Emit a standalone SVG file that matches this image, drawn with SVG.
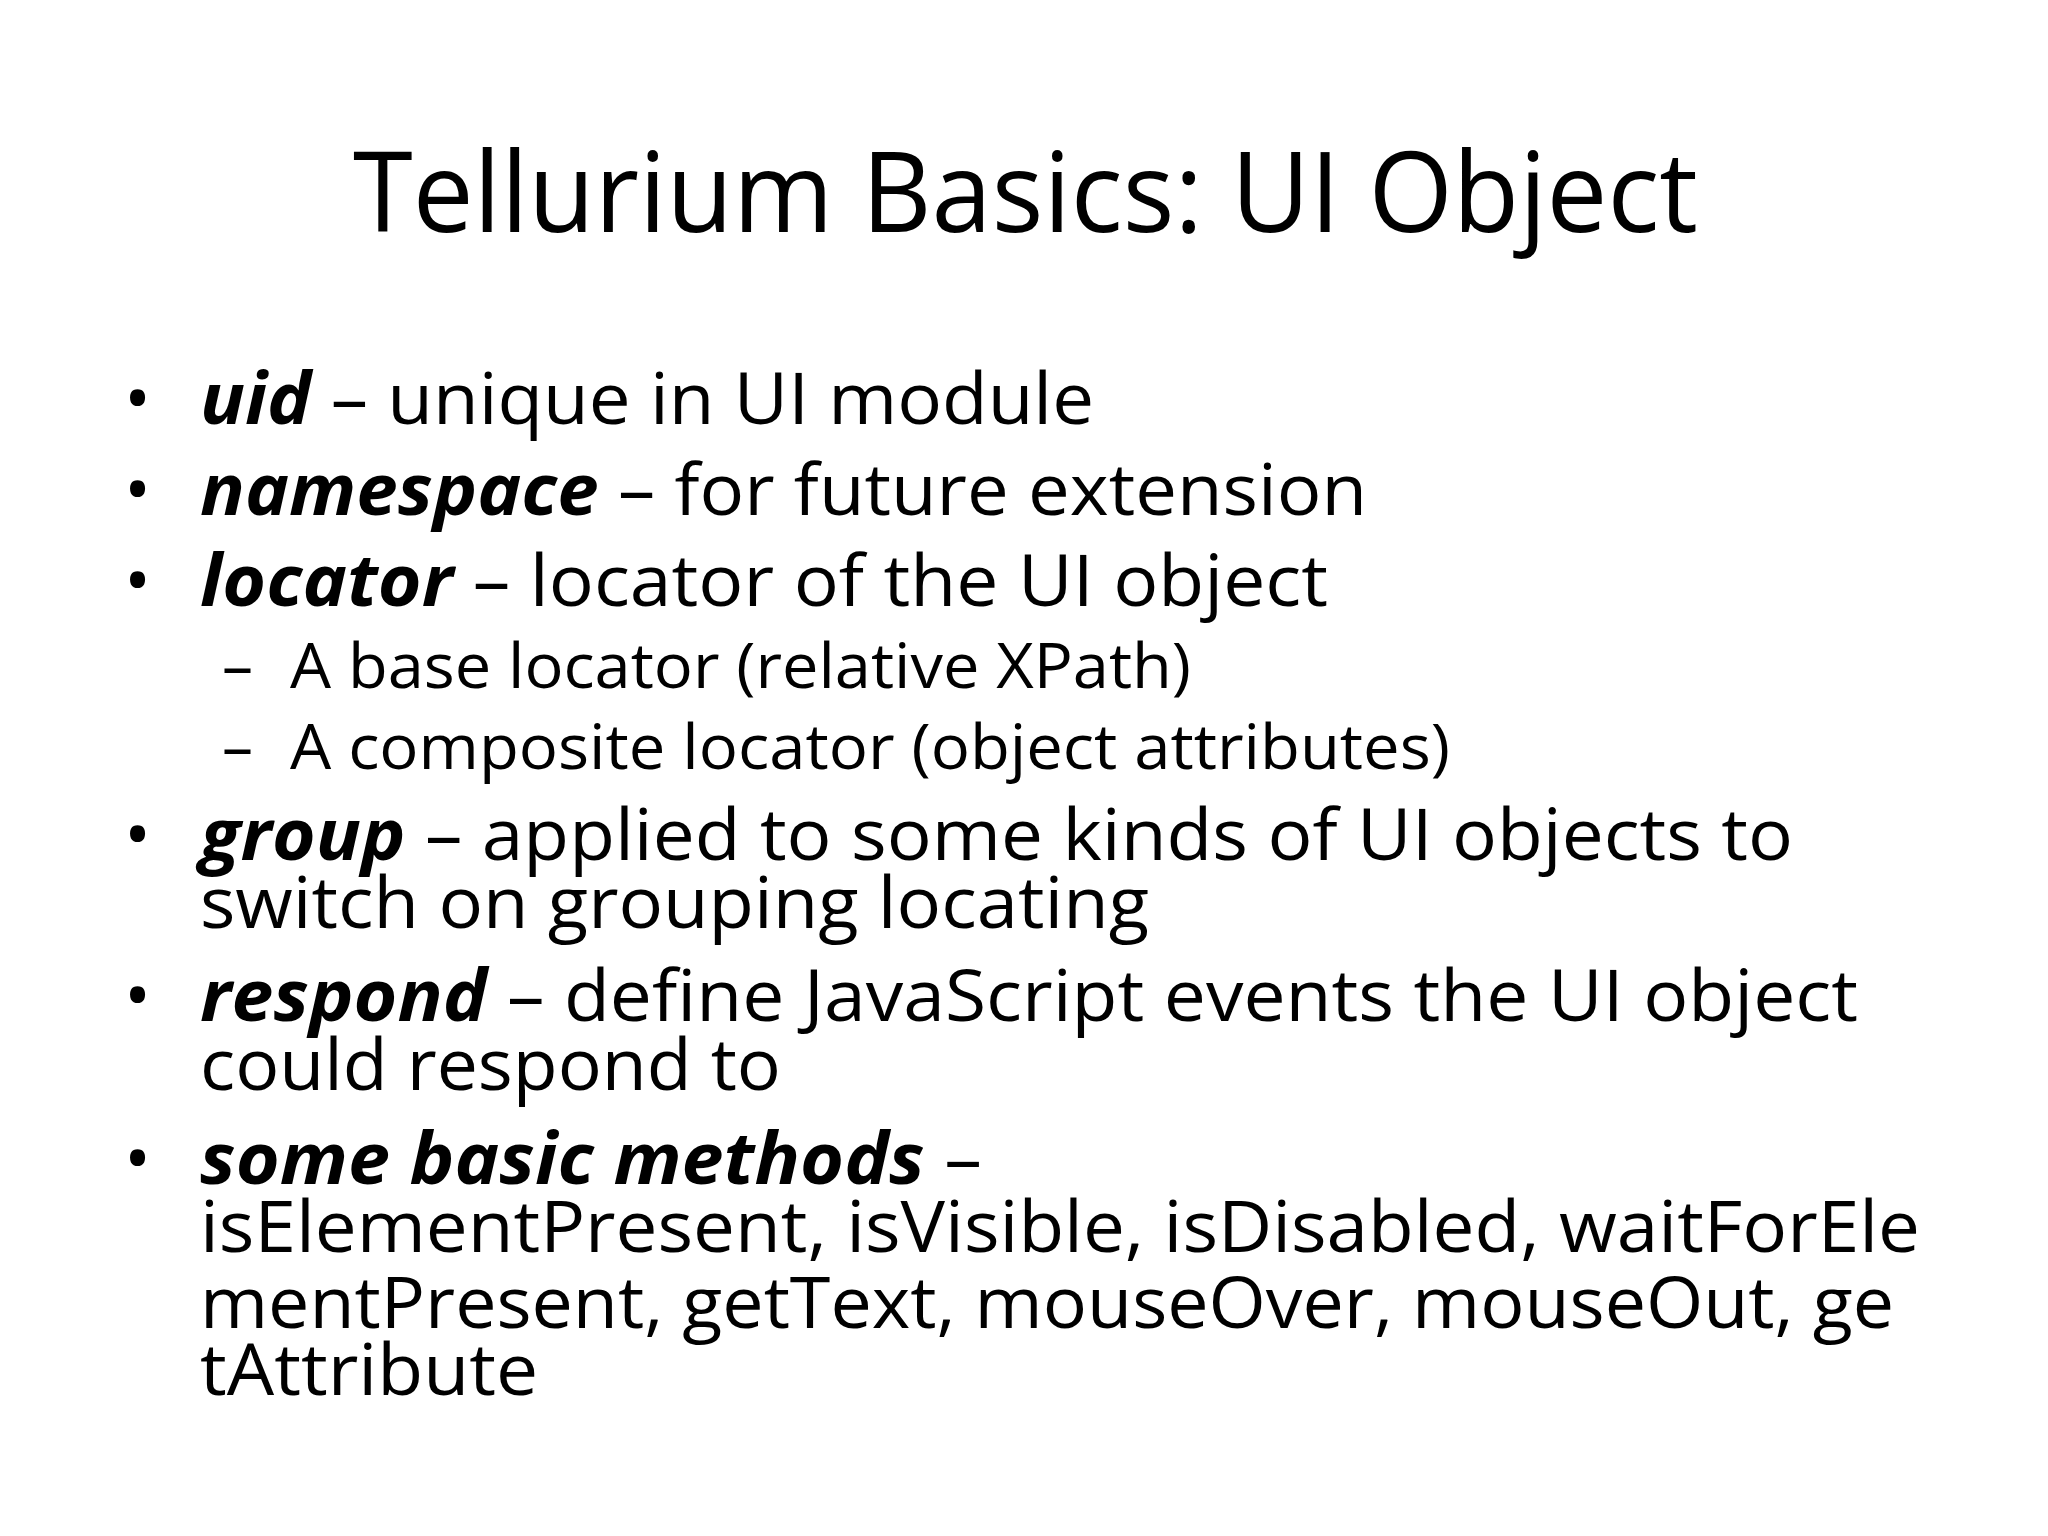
<svg xmlns="http://www.w3.org/2000/svg" width="2048" height="1536" viewBox="0 0 2048 1536">
<style>
text{font-family:"Open Sans","Noto Sans",sans-serif;fill:#000}
.t{font-size:112px}
.b{font-size:72px}
.s{font-size:62px}
.k{font-weight:bold;font-style:italic}
</style>
<rect width="2048" height="1536" fill="#fff"/>
<g id="title"><text class="t" x="353" y="232" textLength="1345" lengthAdjust="spacingAndGlyphs">Tellurium Basics: UI Object</text></g>
<g id="bullets">
<text class="b" x="124" y="424">•</text>
<text class="b" x="200" y="424" textLength="894" lengthAdjust="spacingAndGlyphs"><tspan class="k">uid</tspan> – unique in UI module</text>
<text class="b" x="124" y="515">•</text>
<text class="b" x="200" y="515" textLength="1167" lengthAdjust="spacingAndGlyphs"><tspan class="k">namespace</tspan> – for future extension</text>
<text class="b" x="124" y="606">•</text>
<text class="b" x="200" y="606" textLength="1128" lengthAdjust="spacingAndGlyphs"><tspan class="k">locator</tspan> – locator of the UI object</text>
<text class="s" x="222" y="688">–</text>
<text class="s" x="290" y="688" textLength="901" lengthAdjust="spacingAndGlyphs">A base locator (relative XPath)</text>
<text class="s" x="222" y="769">–</text>
<text class="s" x="290" y="769" textLength="1160" lengthAdjust="spacingAndGlyphs">A composite locator (object attributes)</text>
<text class="b" x="124" y="860">•</text>
<text class="b" x="200" y="860" textLength="1593" lengthAdjust="spacingAndGlyphs"><tspan class="k">group</tspan> – applied to some kinds of UI objects to</text>
<text class="b" x="200" y="928" textLength="949" lengthAdjust="spacingAndGlyphs">switch on grouping locating</text>
<text class="b" x="124" y="1021">•</text>
<text class="b" x="200" y="1021" textLength="1658" lengthAdjust="spacingAndGlyphs"><tspan class="k">respond</tspan> – define JavaScript events the UI object</text>
<text class="b" x="200" y="1090" textLength="581" lengthAdjust="spacingAndGlyphs">could respond to</text>
<text class="b" x="124" y="1184">•</text>
<text class="b" x="200" y="1184" textLength="782" lengthAdjust="spacingAndGlyphs"><tspan class="k">some basic methods</tspan> –</text>
<text class="b" x="200" y="1252" textLength="1720" lengthAdjust="spacingAndGlyphs">isElementPresent, isVisible, isDisabled, waitForEle</text>
<text class="b" x="200" y="1328" textLength="1694" lengthAdjust="spacingAndGlyphs">mentPresent, getText, mouseOver, mouseOut, ge</text>
<text class="b" x="200" y="1395" textLength="338" lengthAdjust="spacingAndGlyphs">tAttribute</text>
</g>
</svg>
